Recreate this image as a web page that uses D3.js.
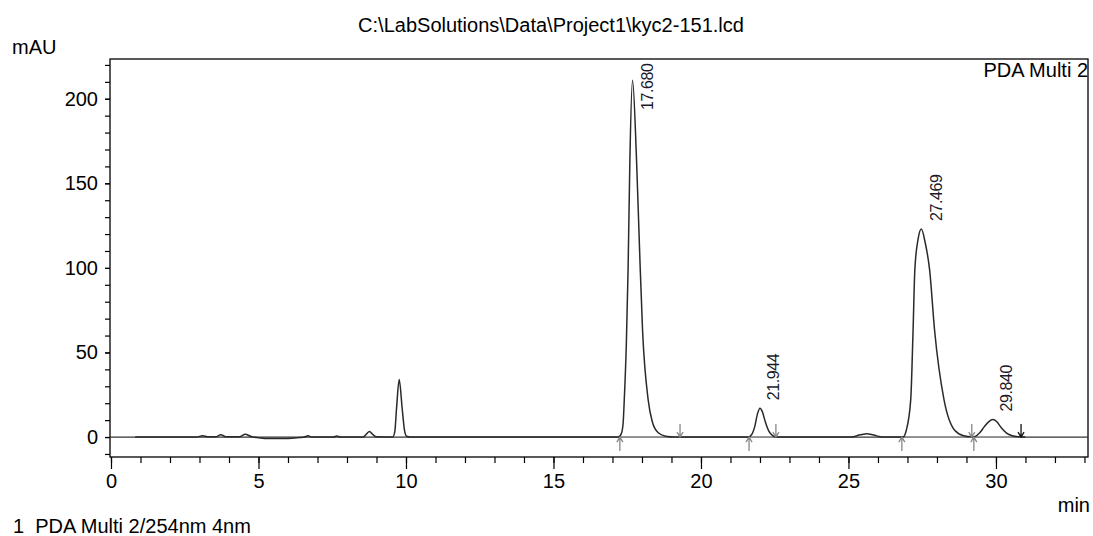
<!DOCTYPE html>
<html>
<head>
<meta charset="utf-8">
<script src="https://cdn.jsdelivr.net/npm/d3@7"></script>
<style>
  body { margin: 0; background: #fff; }
  svg { display: block; font-family: "Liberation Sans", Arial, sans-serif; }
</style>
</head>
<body>
<svg id="chart" width="1093" height="536"></svg>
<script>
// retention time (min) and detector signal (mAU)
var rtMin = [0.82, 2.9, 3.1, 3.3, 3.55, 3.72, 3.9, 4.35, 4.55, 4.75, 5.0, 5.4, 6.0, 6.4, 6.55, 6.68, 6.8,
  7.55, 7.65, 7.78, 8.55, 8.66, 8.76, 8.88, 9.0, 9.55, 9.62, 9.68, 9.77, 9.87, 9.95, 10.02, 10.15,
  17.2, 17.3, 17.36, 17.4, 17.47, 17.53, 17.59, 17.68, 17.815, 17.92, 18.02, 18.21, 18.35, 18.55, 18.8, 19.1,
  21.6, 21.72, 21.82, 21.92, 22.0, 22.08, 22.18, 22.3, 22.42, 22.55,
  25.1, 25.4, 25.62, 25.85, 26.15,
  26.85, 26.96, 27.11, 27.19, 27.25, 27.36, 27.47, 27.6, 27.75, 27.92, 28.24, 28.6, 28.9, 29.18,
  29.3, 29.45, 29.6, 29.75, 29.9, 30.03, 30.18, 30.35, 30.55, 30.8, 31.0];
var mAU = [0, 0, 0.8, 0.1, 0.1, 1.3, 0.2, 0.2, 1.6, 0.3, -0.4, -0.9, -0.9, -0.3, 0, 0.7, 0,
  0, 0.6, 0, 0, 1.8, 3.3, 1.4, 0.1, 0, 3, 17, 34, 17, 4, 0.5, 0,
  0, 2, 8, 22, 55, 100, 164, 211, 164, 110, 63, 22, 9, 2.5, 0.5, 0,
  0, 1.5, 6, 14, 17, 15, 9, 3.5, 1, 0,
  0, 1.3, 2, 1.2, 0,
  0, 4, 22, 63, 99, 117, 123, 115, 99, 63, 22, 4, 0.8, 0.1,
  0.4, 2.5, 6, 9, 10.3, 9, 5.5, 2.5, 0.8, 0.1, 0];

// integrated peaks
var peakRT = [17.680, 21.944, 27.469, 29.840];
var peakTop = [211, 17, 123, 10.3];
var peakStart = [17.25, 21.63, 26.81, 29.25];
var peakEnd = [19.29, 22.54, 29.18, 30.85];

var xTickLabels = [0, 5, 10, 15, 20, 25, 30];
var yTickLabels = [0, 50, 100, 150, 200];

var svg = d3.select("#chart");
var plotL = 110, plotR = 1088, plotT = 59, plotB = 457;

var x = d3.scaleLinear().domain([0, 33.12]).range([111, plotR]);
var y = d3.scaleLinear().domain([-11.8, 223.5]).range([plotB, plotT]);

// minor ticks
var xMinor = d3.range(0, 34, 1);
var yMinor = d3.range(-10, 221, 10);

svg.append("g")
  .attr("transform", "translate(0," + plotB + ")")
  .call(d3.axisBottom(x).tickValues(xMinor).tickSize(6).tickFormat(""))
  .call(function(g) { g.select(".domain").remove(); });

svg.append("g")
  .attr("class", "x axis")
  .attr("transform", "translate(0," + plotB + ")")
  .call(d3.axisBottom(x).tickValues(xTickLabels).tickSize(12).tickPadding(4).tickFormat(d3.format("d")))
  .call(function(g) { g.select(".domain").remove(); });

svg.append("g")
  .attr("transform", "translate(" + plotL + ",0)")
  .call(d3.axisLeft(y).tickValues(yMinor).tickSize(5).tickFormat(""))
  .call(function(g) { g.select(".domain").remove(); });

svg.append("g")
  .attr("class", "y axis")
  .attr("transform", "translate(" + plotL + ",0)")
  .call(d3.axisLeft(y).tickValues(yTickLabels).tickSize(5).tickPadding(7).tickFormat(d3.format("d")))
  .call(function(g) { g.select(".domain").remove(); });

svg.selectAll(".tick line").attr("stroke", "#000").attr("stroke-width", 1.2);
svg.selectAll(".tick text").attr("fill", "#000").attr("font-size", 20)
  .attr("font-family", "Liberation Sans, Arial, sans-serif");
svg.selectAll(".x.axis .tick text").attr("dy", null).attr("y", 31);

// frame
svg.append("rect")
  .attr("x", plotL).attr("y", plotT)
  .attr("width", plotR - plotL).attr("height", plotB - plotT)
  .attr("fill", "none").attr("stroke", "#000").attr("stroke-width", 1.3);

// zero line
svg.append("line")
  .attr("x1", plotL).attr("x2", plotR)
  .attr("y1", y(0)).attr("y2", y(0))
  .attr("stroke", "#333").attr("stroke-width", 1.2);

// integration baselines
svg.append("g").selectAll("line")
  .data(peakStart)
  .enter().append("line")
  .attr("x1", function(d) { return x(d); })
  .attr("x2", function(d, i) { return x(peakEnd[i]); })
  .attr("y1", y(0)).attr("y2", y(0))
  .attr("stroke", "#9a9a9a").attr("stroke-width", 1.5);

// trace
var pts = rtMin.map(function(t, i) { return [t, mAU[i]]; });
svg.append("path")
  .datum(pts)
  .attr("fill", "none")
  .attr("stroke", "#2a2a2a")
  .attr("stroke-width", 1.5)
  .attr("d", d3.line()
    .x(function(d) { return x(d[0]); })
    .y(function(d) { return y(d[1]); })
    .curve(d3.curveMonotoneX));

// start (up) and end (down) markers
var y0 = y(0);
svg.append("g").selectAll("path")
  .data(peakStart)
  .enter().append("path")
  .attr("d", function(d) {
    var px = x(d);
    return "M" + px + "," + (y0 + 14) + "L" + px + "," + y0 +
      "M" + (px - 3) + "," + (y0 + 5) + "L" + px + "," + y0 + "L" + (px + 3) + "," + (y0 + 5);
  })
  .attr("fill", "none").attr("stroke", "#888").attr("stroke-width", 1.3);

svg.append("g").selectAll("path")
  .data(peakEnd)
  .enter().append("path")
  .attr("d", function(d) {
    var px = x(d);
    return "M" + px + "," + (y0 - 13) + "L" + px + "," + y0 +
      "M" + (px - 3) + "," + (y0 - 5) + "L" + px + "," + y0 + "L" + (px + 3) + "," + (y0 - 5);
  })
  .attr("fill", "none")
  .attr("stroke", function(d, i) { return i == peakEnd.length - 1 ? "#111" : "#888"; })
  .attr("stroke-width", 1.3);

// retention time labels
svg.append("g").selectAll("text")
  .data(peakRT)
  .enter().append("text")
  .attr("transform", function(d, i) {
    var sy = y(peakTop[i]) - 8;
    var len = 47;
    if (sy - len < plotT + 4) sy = plotT + 4 + len;
    return "translate(" + (x(d) + 15) + "," + sy + ") rotate(-90)";
  })
  .attr("dy", "0.35em")
  .attr("font-size", 16)
  .attr("textLength", 47)
  .attr("fill", "#1a1a2a")
  .text(function(d) { return d3.format(".3f")(d); });

// texts
svg.append("text").attr("x", 551).attr("y", 32).attr("text-anchor", "middle")
  .attr("font-size", 20).text("C:\\LabSolutions\\Data\\Project1\\kyc2-151.lcd");
svg.append("text").attr("x", 12).attr("y", 54).attr("font-size", 20).text("mAU");
svg.append("text").attr("x", 1088).attr("y", 77).attr("text-anchor", "end")
  .attr("font-size", 20).text("PDA Multi 2");
svg.append("text").attr("x", 1090).attr("y", 512).attr("text-anchor", "end")
  .attr("font-size", 20).text("min");
svg.append("text").attr("x", 13).attr("y", 533).attr("font-size", 20)
  .attr("xml:space", "preserve").text("1  PDA Multi 2/254nm 4nm");
</script>
</body>
</html>
